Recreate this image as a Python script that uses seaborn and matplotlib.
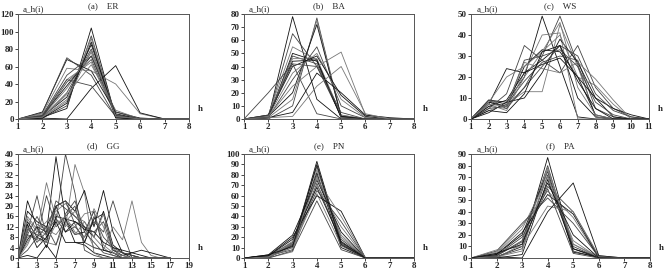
import numpy as np
import pandas as pd
import matplotlib
matplotlib.use("Agg")
import matplotlib.pyplot as plt
import seaborn as sns

# (a) ER, values at h = 1..8
er_h = [1, 2, 3, 4, 5, 6, 7, 8]
er_curves = [
    [0, 2, 12, 104, 2, 0, 0, 0],
    [0, 1, 15, 95, 3, 0, 0, 0],
    [0, 2, 20, 92, 2, 0, 0, 0],
    [0, 3, 25, 85, 4, 0, 0, 0],
    [0, 2, 30, 80, 5, 0, 0, 0],
    [0, 3, 35, 76, 3, 1, 0, 0],
    [0, 4, 38, 72, 6, 0, 0, 0],
    [0, 2, 42, 68, 4, 0, 0, 0],
    [0, 5, 45, 65, 3, 0, 0, 0],
    [0, 8, 68, 55, 8, 1, 0, 0],
    [0, 7, 70, 50, 2, 0, 0, 0],
    [0, 6, 58, 55, 40, 6, 0, 0],
    [0, 1, 0, 35, 61, 7, 0, 0],
    [0, 3, 45, 38, 3, 0, 0, 0],
    [0, 2, 28, 62, 10, 0, 0, 0],
    [0, 1, 18, 88, 1, 0, 0, 0],
    [0, 4, 50, 72, 8, 0, 0, 0],
    [0, 2, 22, 78, 3, 0, 0, 0],
]

# (b) BA
ba_h = [1, 2, 3, 4, 5, 6, 7, 8]
ba_curves = [
    [0, 1, 78, 15, 0, 0, 0, 0],
    [0, 2, 65, 40, 2, 0, 0, 0],
    [0, 3, 55, 45, 3, 0, 0, 0],
    [0, 1, 50, 44, 1, 0, 0, 0],
    [0, 2, 48, 42, 2, 0, 0, 0],
    [0, 2, 46, 46, 3, 0, 0, 0],
    [0, 1, 44, 45, 1, 0, 0, 0],
    [0, 0, 10, 77, 2, 0, 0, 0],
    [0, 1, 15, 75, 1, 0, 0, 0],
    [0, 2, 20, 72, 2, 0, 0, 0],
    [0, 1, 30, 55, 10, 1, 0, 0],
    [0, 2, 35, 50, 15, 1, 0, 0],
    [0, 3, 40, 48, 18, 2, 0, 0],
    [0, 20, 42, 4, 0, 0, 0, 0],
    [0, 2, 25, 40, 51, 3, 0, 0],
    [0, 1, 5, 35, 20, 3, 1, 0],
    [0, 3, 42, 40, 5, 0, 0, 0],
    [0, 1, 2, 25, 40, 4, 0, 0],
]

# (c) WS
ws_h = [1, 2, 3, 4, 5, 6, 7, 8, 9, 10, 11]
ws_curves = [
    [0, 9, 8, 20, 49, 25, 1, 0, 0, 0, 0],
    [0, 8, 6, 15, 30, 49, 26, 1, 0, 0, 0],
    [0, 6, 5, 22, 40, 41, 0, 0, 0, 0, 0],
    [0, 7, 24, 22, 28, 35, 10, 1, 0, 0, 0],
    [0, 5, 12, 35, 28, 22, 35, 15, 5, 1, 0],
    [0, 4, 7, 13, 13, 45, 25, 1, 0, 0, 0],
    [0, 8, 6, 25, 33, 32, 20, 2, 0, 0, 0],
    [0, 9, 7, 18, 27, 30, 28, 5, 1, 0, 0],
    [0, 7, 4, 20, 32, 46, 15, 2, 0, 0, 0],
    [0, 3, 8, 10, 22, 38, 27, 10, 1, 0, 0],
    [0, 5, 6, 28, 30, 33, 25, 8, 2, 0, 0],
    [0, 8, 20, 25, 32, 40, 20, 16, 7, 0, 0],
    [0, 6, 9, 22, 26, 29, 20, 10, 5, 2, 0],
    [0, 9, 5, 15, 25, 35, 30, 12, 4, 1, 0],
    [0, 7, 6, 27, 24, 22, 27, 19, 9, 0, 0],
    [0, 4, 3, 12, 32, 35, 18, 5, 0, 0, 0],
]

# (d) GG
gg_h = list(range(1, 18))
gg_curves = [
    [0, 22, 12, 10, 39, 15, 6, 5, 2, 1, 0, 0, 0, 0, 0, 0, 0],
    [0, 10, 24, 8, 14, 40, 25, 3, 1, 0, 0, 0, 0, 0, 0, 0, 0],
    [0, 8, 10, 29, 15, 12, 36, 25, 2, 0, 0, 0, 0, 0, 0, 0, 0],
    [0, 14, 8, 6, 20, 22, 18, 26, 12, 26, 10, 2, 0, 0, 0, 0, 0],
    [0, 12, 6, 10, 15, 10, 12, 8, 14, 10, 22, 10, 0, 0, 0, 0, 0],
    [0, 6, 12, 6, 5, 14, 18, 12, 4, 3, 12, 7, 22, 6, 1, 0, 0],
    [0, 18, 14, 12, 20, 10, 14, 12, 8, 18, 5, 2, 1, 0, 0, 0, 0],
    [0, 9, 7, 24, 12, 16, 20, 6, 4, 3, 2, 1, 0, 0, 0, 0, 0],
    [0, 15, 10, 14, 18, 21, 16, 14, 8, 4, 1, 0, 0, 0, 0, 0, 0],
    [0, 7, 12, 4, 16, 15, 9, 10, 18, 3, 2, 0, 0, 0, 0, 0, 0],
    [0, 11, 9, 7, 20, 22, 13, 6, 16, 8, 4, 2, 1, 0, 0, 0, 0],
    [0, 5, 13, 11, 9, 14, 12, 17, 18, 5, 2, 1, 0, 0, 0, 0, 0],
    [0, 13, 4, 8, 14, 6, 6, 6, 15, 17, 3, 1, 2, 3, 2, 1, 0],
    [0, 3, 8, 12, 5, 17, 22, 10, 6, 2, 1, 0, 0, 0, 0, 0, 0],
    [0, 16, 11, 9, 17, 13, 9, 14, 8, 17, 4, 0, 0, 0, 0, 0, 0],
    [0, 1, 0, 5, 0, 15, 14, 11, 10, 6, 4, 3, 2, 1, 0, 0, 0],
    [0, 9, 16, 9, 22, 19, 16, 12, 10, 14, 3, 2, 1, 0, 0, 0, 0],
    [0, 12, 7, 6, 13, 16, 10, 8, 19, 12, 2, 1, 0, 0, 0, 0, 0],
]

# (e) PN
pn_h = [1, 2, 3, 4, 5, 6, 7, 8]
pn_curves = [
    [0, 1, 12, 93, 15, 0, 0, 0],
    [0, 2, 15, 88, 12, 0, 0, 0],
    [0, 1, 10, 85, 20, 0, 0, 0],
    [0, 0, 14, 82, 10, 0, 0, 0],
    [0, 2, 8, 80, 18, 0, 0, 0],
    [0, 1, 16, 78, 22, 0, 0, 0],
    [0, 3, 22, 75, 25, 0, 0, 0],
    [0, 1, 12, 72, 14, 0, 0, 0],
    [0, 0, 6, 70, 30, 0, 0, 0],
    [0, 2, 18, 68, 16, 0, 0, 0],
    [0, 1, 13, 65, 35, 0, 0, 0],
    [0, 1, 10, 62, 12, 0, 0, 0],
    [0, 2, 20, 60, 45, 0, 0, 0],
    [0, 0, 7, 55, 8, 0, 0, 0],
    [0, 1, 14, 76, 40, 0, 0, 0],
    [0, 3, 11, 90, 13, 0, 0, 0],
]

# (f) PA
pa_h = [1, 2, 3, 4, 5, 6, 7, 8]
pa_curves = [
    [0, 1, 10, 87, 8, 1, 0, 0],
    [0, 2, 15, 80, 6, 0, 0, 0],
    [0, 0, 12, 78, 12, 0, 0, 0],
    [0, 3, 20, 75, 5, 1, 0, 0],
    [0, 1, 8, 72, 10, 0, 0, 0],
    [0, 4, 25, 70, 15, 0, 0, 0],
    [0, 0, 3, 68, 8, 0, 0, 0],
    [0, 2, 18, 62, 40, 1, 0, 0],
    [0, 5, 28, 58, 35, 0, 0, 0],
    [0, 3, 22, 55, 38, 0, 0, 0],
    [0, 6, 30, 52, 30, 1, 0, 0],
    [0, 7, 10, 45, 40, 2, 0, 0],
    [0, 1, 0, 40, 65, 2, 0, 0],
    [0, 2, 14, 60, 4, 0, 0, 0],
    [0, 1, 6, 76, 12, 1, 0, 0],
    [0, 4, 12, 65, 20, 0, 0, 0],
]

panels = [
    ("(a)    ER", er_h, er_curves, (1, 8), range(1, 9), (0, 120), range(0, 121, 20)),
    ("(b)    BA", ba_h, ba_curves, (1, 8), range(1, 9), (0, 80), range(0, 81, 10)),
    ("(c)    WS", ws_h, ws_curves, (1, 11), range(1, 12), (0, 50), range(0, 51, 10)),
    ("(d)    GG", gg_h, gg_curves, (1, 19), range(1, 20, 2), (0, 40), range(0, 41, 4)),
    ("(e)    PN", pn_h, pn_curves, (1, 8), range(1, 9), (0, 100), range(0, 101, 10)),
    ("(f)    PA", pa_h, pa_curves, (1, 8), range(1, 9), (0, 90), range(0, 91, 10)),
]

# axes boxes in figure fractions (left, bottom, width, height)
boxes = [
    (0.0271, 0.5625, 0.2575, 0.386),
    (0.3675, 0.5625, 0.2560, 0.386),
    (0.7093, 0.5625, 0.2680, 0.386),
    (0.0271, 0.0515, 0.2575, 0.382),
    (0.3675, 0.0515, 0.2560, 0.382),
    (0.7093, 0.0515, 0.2695, 0.382),
]

sns.set_style("ticks")
plt.rcParams['font.family'] = ['Liberation Serif', 'DejaVu Serif']
plt.rcParams['font.size'] = 6.5

fig = plt.figure(figsize=(6.64, 2.72), dpi=100)

for (title, hs, curves, xlim, xt, ylim, yt), box in zip(panels, boxes):
    ax = fig.add_axes(box)
    rows = []
    for k, c in enumerate(curves):
        for h, v in zip(hs, c):
            rows.append((k, h, v))
    df = pd.DataFrame(rows, columns=["curve", "h", "a"])
    n = len(curves)
    pal = ["#111111" if k % 3 == 0 else ("#444444" if k % 3 == 1 else "#777777") for k in range(n)]
    sns.lineplot(data=df, x="h", y="a", hue="curve", palette=pal, units="curve",
                 estimator=None, legend=False, linewidth=0.6, ax=ax)
    ax.set_xlim(*xlim)
    ax.set_ylim(*ylim)
    ax.set_xticks(list(xt))
    ax.set_yticks(list(yt))
    ax.set_xlabel("")
    ax.set_ylabel("")
    ax.tick_params(labelsize=6.5, length=2, width=0.6, pad=1)
    for lab in ax.get_xticklabels() + ax.get_yticklabels():
        lab.set_fontweight("bold")
    for s in ax.spines.values():
        s.set_linewidth(0.7)
        s.set_color("#555555")
    ax.set_title(title, fontsize=6.5, pad=4)
    ax.text(0.03, 1.005, "a_h(i)", transform=ax.transAxes, fontsize=6.5,
            va="bottom", ha="left")
    ax.text(1.065, 0.1, "h", transform=ax.transAxes, fontsize=6.5,
            fontweight="bold", va="center", ha="center")

fig.savefig("out.png", dpi=100)
